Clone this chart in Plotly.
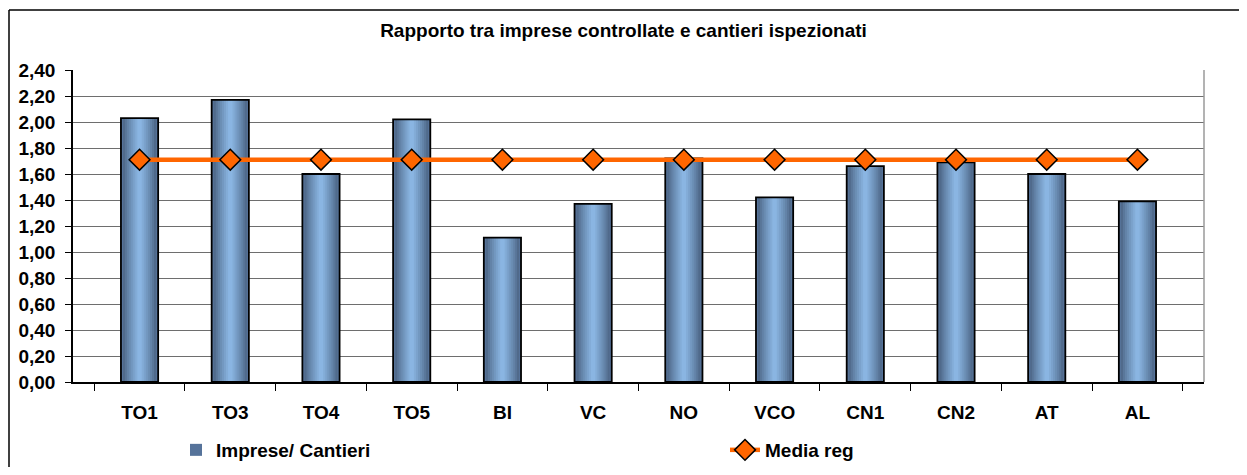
import plotly.graph_objects as go

# ---------------------------------------------------------------------------
# Data
# ---------------------------------------------------------------------------
asl = ["TO1", "TO3", "TO4", "TO5", "BI", "VC", "NO", "VCO", "CN1", "CN2", "AT", "AL"]
imprese_cantieri = [2.03, 2.17, 1.60, 2.02, 1.11, 1.37, 1.72, 1.42, 1.66, 1.69, 1.60, 1.39]
media_reg = [1.71] * len(asl)
y_ticks = [0.0, 0.2, 0.4, 0.6, 0.8, 1.0, 1.2, 1.4, 1.6, 1.8, 2.0, 2.2, 2.4]

TITLE = "Rapporto tra imprese controllate e cantieri ispezionati"
FONT = "Liberation Sans, Arial, sans-serif"

# page has an 8px body margin, so the figure is a bit smaller than the window
OFF = 8
W, H = 1247 - 2 * OFF, 475 - 2 * OFF
M = dict(l=73 - OFF, r=1247 - OFF - 1204, t=70 - OFF, b=475 - OFF - 382,
         autoexpand=False)
PW = W - M["l"] - M["r"]
PH = H - M["t"] - M["b"]


def px_x(x):
    # window pixel -> paper x
    return (x - OFF - M["l"]) / PW


def px_y(y):
    # window pixel -> paper y
    return (H + OFF - M["b"] - y) / PH


def mix(c1, c2, t):
    a = [int(c1[i:i + 2], 16) for i in (1, 3, 5)]
    b = [int(c2[i:i + 2], 16) for i in (1, 3, 5)]
    return "#" + "".join(f"{round(x + (y - x) * t):02x}" for x, y in zip(a, b))


fig = go.Figure()

# bars: overlaid layers to fake the Excel gradient (dark edges, light centre)
BAR_W = 0.41
N_LAYERS = 9
for i in range(N_LAYERS):
    t = i / (N_LAYERS - 1)
    fig.add_trace(go.Bar(
        x=asl, y=imprese_cantieri, width=BAR_W * (1 - 0.88 * t),
        name="Imprese/ Cantieri",
        showlegend=(i == 0),
        marker=dict(color=mix("#425977", "#8ab5e2", t ** 0.8) if i else "#56739a",
                    line=dict(color="black", width=0)),
        hoverinfo="skip" if i else None,
    ))
# outline on top of the layers
fig.add_trace(go.Bar(
    x=asl, y=imprese_cantieri, width=BAR_W, showlegend=False,
    marker=dict(color="rgba(0,0,0,0)", line=dict(color="black", width=1.8)),
    hoverinfo="skip",
))

fig.add_trace(go.Scatter(
    x=asl, y=media_reg, mode="lines+markers", name="Media reg",
    line=dict(color="#ff6600", width=4.5),
    marker=dict(symbol="diamond", size=16, color="#ff6600",
                line=dict(color="black", width=1.5)),
))

bold = dict(family=FONT, size=19, color="black", weight="bold")
border = dict(color="black", width=1.5)

fig.update_layout(
    width=W, height=H, margin=M,
    barmode="overlay",
    separators=",.",
    paper_bgcolor="white", plot_bgcolor="white",
    font=dict(family=FONT, size=18, color="black"),
    title=dict(text=TITLE, x=0.5, xanchor="center",
               y=1 - (30 - OFF) / H, yanchor="middle",
               font=dict(family=FONT, size=19, color="black", weight="bold")),
    legend=dict(orientation="h", x=px_x(176), xanchor="left",
                y=px_y(450), yanchor="middle",
                entrywidth=504, font=bold,
                bgcolor="rgba(0,0,0,0)"),
    xaxis=dict(
        type="category", showline=True, linecolor="black", linewidth=1.5,
        ticks="outside", tickson="boundaries", ticklen=7, tickcolor="black",
        ticklabelstandoff=12,
        tickfont=bold,
        showgrid=False,
    ),
    yaxis=dict(
        range=[0, 2.4], tickvals=y_ticks, tickformat=".2f",
        showline=True, linecolor="black", linewidth=1.5,
        ticks="outside", ticklen=6, tickcolor="black",
        ticklabelstandoff=6,
        tickfont=bold,
        showgrid=True, gridcolor="#6e6e6e", gridwidth=1,
        zeroline=False,
    ),
    shapes=[
        # right edge of plot area
        dict(type="line", xref="paper", yref="paper", x0=1, x1=1, y0=0, y1=1,
             line=dict(color="#9a9a9a", width=1.5)),
        # outer chart border: only its top and left edges are in the picture
        dict(type="line", xref="paper", yref="paper",
             x0=px_x(9), x1=px_x(1250), y0=px_y(10), y1=px_y(10), line=border),
        dict(type="line", xref="paper", yref="paper",
             x0=px_x(9), x1=px_x(9), y0=px_y(10), y1=px_y(480), line=border),
    ],
)

fig.write_html("out.html")
